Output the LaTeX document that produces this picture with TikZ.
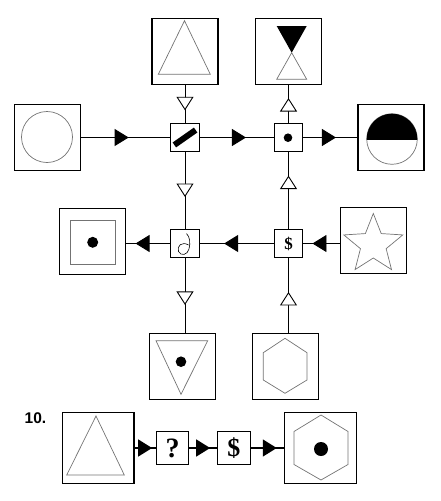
\documentclass[tikz,border=0pt]{standalone}
\usepackage{fontspec}
\usetikzlibrary{arrows.meta,decorations.markings}
\newfontfamily\numfont{Liberation Sans}
\newfontfamily\signfont{Liberation Serif}
\tikzset{
  bigbox/.style={draw, line width=1.1pt, minimum size=66pt, inner sep=0pt},
  gate/.style={draw, line width=0.9pt, minimum size=28.5pt, inner sep=0pt,
    font=\signfont\bfseries\fontsize{17}{17}\selectfont},
  shape line/.style={draw=black!55, line width=0.7pt},
  wire/.style={line width=0.9pt},
  solid tip/.style={postaction={decorate}, decoration={markings,
    mark=at position #1 with {\arrow[xshift=7pt]{Triangle[length=14pt,width=17pt]}}}},
  open tip/.style={postaction={decorate}, decoration={markings,
    mark=at position #1 with {\arrow[xshift=6.5pt]{Triangle[open,fill=white,length=13.5pt,width=17pt]}}}}
}
\begin{document}
\begin{tikzpicture}[x=1pt, y=-1pt]
  \useasboundingbox (0,0) rectangle (441,501);
  \node[bigbox] (circ) at (47.3,137.5) {};
  \node[bigbox] (toptri) at (185,51.3) {};
  \node[bigbox] (hourglass) at (288.5,51.6) {};
  \node[bigbox] (halfc) at (391,137.5) {};
  \node[bigbox] (sqdot) at (92.7,241.7) {};
  \node[bigbox] (star) at (373.7,240.3) {};
  \node[bigbox] (tridot) at (182.3,366.2) {};
  \node[bigbox] (hexbox) at (285.3,366.3) {};
  \node[gate] (slash) at (185,137.5) {};
  \node[gate] (dot) at (288.5,137.5) {};
  \node[gate] (curl) at (185,243.5) {};
  \node[gate] (dollar) at (288.5,243.5) {\$};
  \node[bigbox, minimum size=71.5pt] (tribig) at (98.2,448) {};
  \node[gate, line width=1.1pt, minimum size=32.5pt,
    font=\signfont\bfseries\fontsize{28}{28}\selectfont] (quest) at (172.5,448) {?};
  \node[gate, line width=1.1pt, minimum size=32.5pt,
    font=\signfont\bfseries\fontsize{26}{26}\selectfont] (dollarb) at (233.8,448) {\$};
  \node[bigbox, minimum size=71.5pt] (hexdot) at (320.5,448) {};
  \node[anchor=base west, inner sep=0pt, font=\numfont\bfseries\fontsize{15.5}{15.5}\selectfont]
    (num) at (24.5,423.3) {10.};

  \draw[wire, solid tip=0.456] (circ) -- (slash);
  \draw[wire, solid tip=0.53] (slash) -- (dot);
  \draw[wire, solid tip=0.475] (dot) -- (halfc);
  \draw[wire, solid tip=0.56] (star.west |- dollar) -- (dollar);
  \draw[wire, solid tip=0.576] (dollar) -- (curl);
  \draw[wire, solid tip=0.63] (curl) -- (curl -| sqdot.east);
  \draw[wire, open tip=0.5] (toptri) -- (slash);
  \draw[wire, open tip=0.5] (slash) -- (curl);
  \draw[wire, open tip=0.54] (curl) -- (curl |- tridot.north);
  \draw[wire, open tip=0.46] (hexbox.north -| dollar) -- (dollar);
  \draw[wire, open tip=0.61] (dollar) -- (dot);
  \draw[wire, open tip=0.485] (dot) -- (hourglass);
  \draw[line width=1.6pt, solid tip=0.5] (tribig) -- (quest);
  \draw[line width=1.6pt, solid tip=0.5] (quest) -- (dollarb);
  \draw[line width=1.6pt, solid tip=0.57] (dollarb) -- (hexdot);

  \draw[shape line] (47,137) circle (25.5);
  \draw[shape line] (184.5,20.7) -- (210.3,74.3) -- (158.3,74.3) -- cycle;
  \fill (276.7,26) -- (306.7,26) -- (291.7,52.7) -- cycle;
  \draw[shape line] (291.7,52.7) -- (306.7,79.3) -- (276.7,79.3) -- cycle;
  \draw[shape line] (392,139) circle (25.3);
  \begin{scope}
    \clip (360,100) rectangle (425,139);
    \fill (392,139) circle (25.3);
  \end{scope}
  \fill[rotate around={35:(slash.center)}] (172,134.5) rectangle (198,140.5);
  \fill (288,137.7) circle (4.3);
  \draw[line width=0.6pt] (186.5,233.5) .. controls (190,237) and (190.5,243) .. (189,249)
    .. controls (187.5,255) and (181,256.5) .. (178.5,251.5)
    .. controls (176.5,246) and (182,241) .. (188.5,245);
  \draw[shape line] (70,220) rectangle (115,264.3);
  \fill (92.7,242.3) circle (5.5);
  \draw[shape line] plot[samples at={0,...,9}]
    ({373.3+ifthenelse(mod(\x,2)==0,31,13.5)*cos(90+36*\x)},
     {244.5-ifthenelse(mod(\x,2)==0,31,13.5)*sin(90+36*\x)}) -- cycle;
  \draw[shape line] (156,340.7) -- (207.7,340.7) -- (181,394.3) -- cycle;
  \fill (181,361.7) circle (5.3);
  \draw[shape line] (285,338.3) -- (307,352.7) -- (307,380) -- (285,393.3)
    -- (263.3,380) -- (263.3,352.7) -- cycle;
  \draw[shape line] (96,416) -- (124.3,475) -- (66.7,475) -- cycle;
  \draw[shape line] (321,415) -- (348,431.5) -- (348,464.5) -- (321,480)
    -- (294,464.5) -- (294,431.5) -- cycle;
  \fill (321,449) circle (7);
\end{tikzpicture}
\end{document}
